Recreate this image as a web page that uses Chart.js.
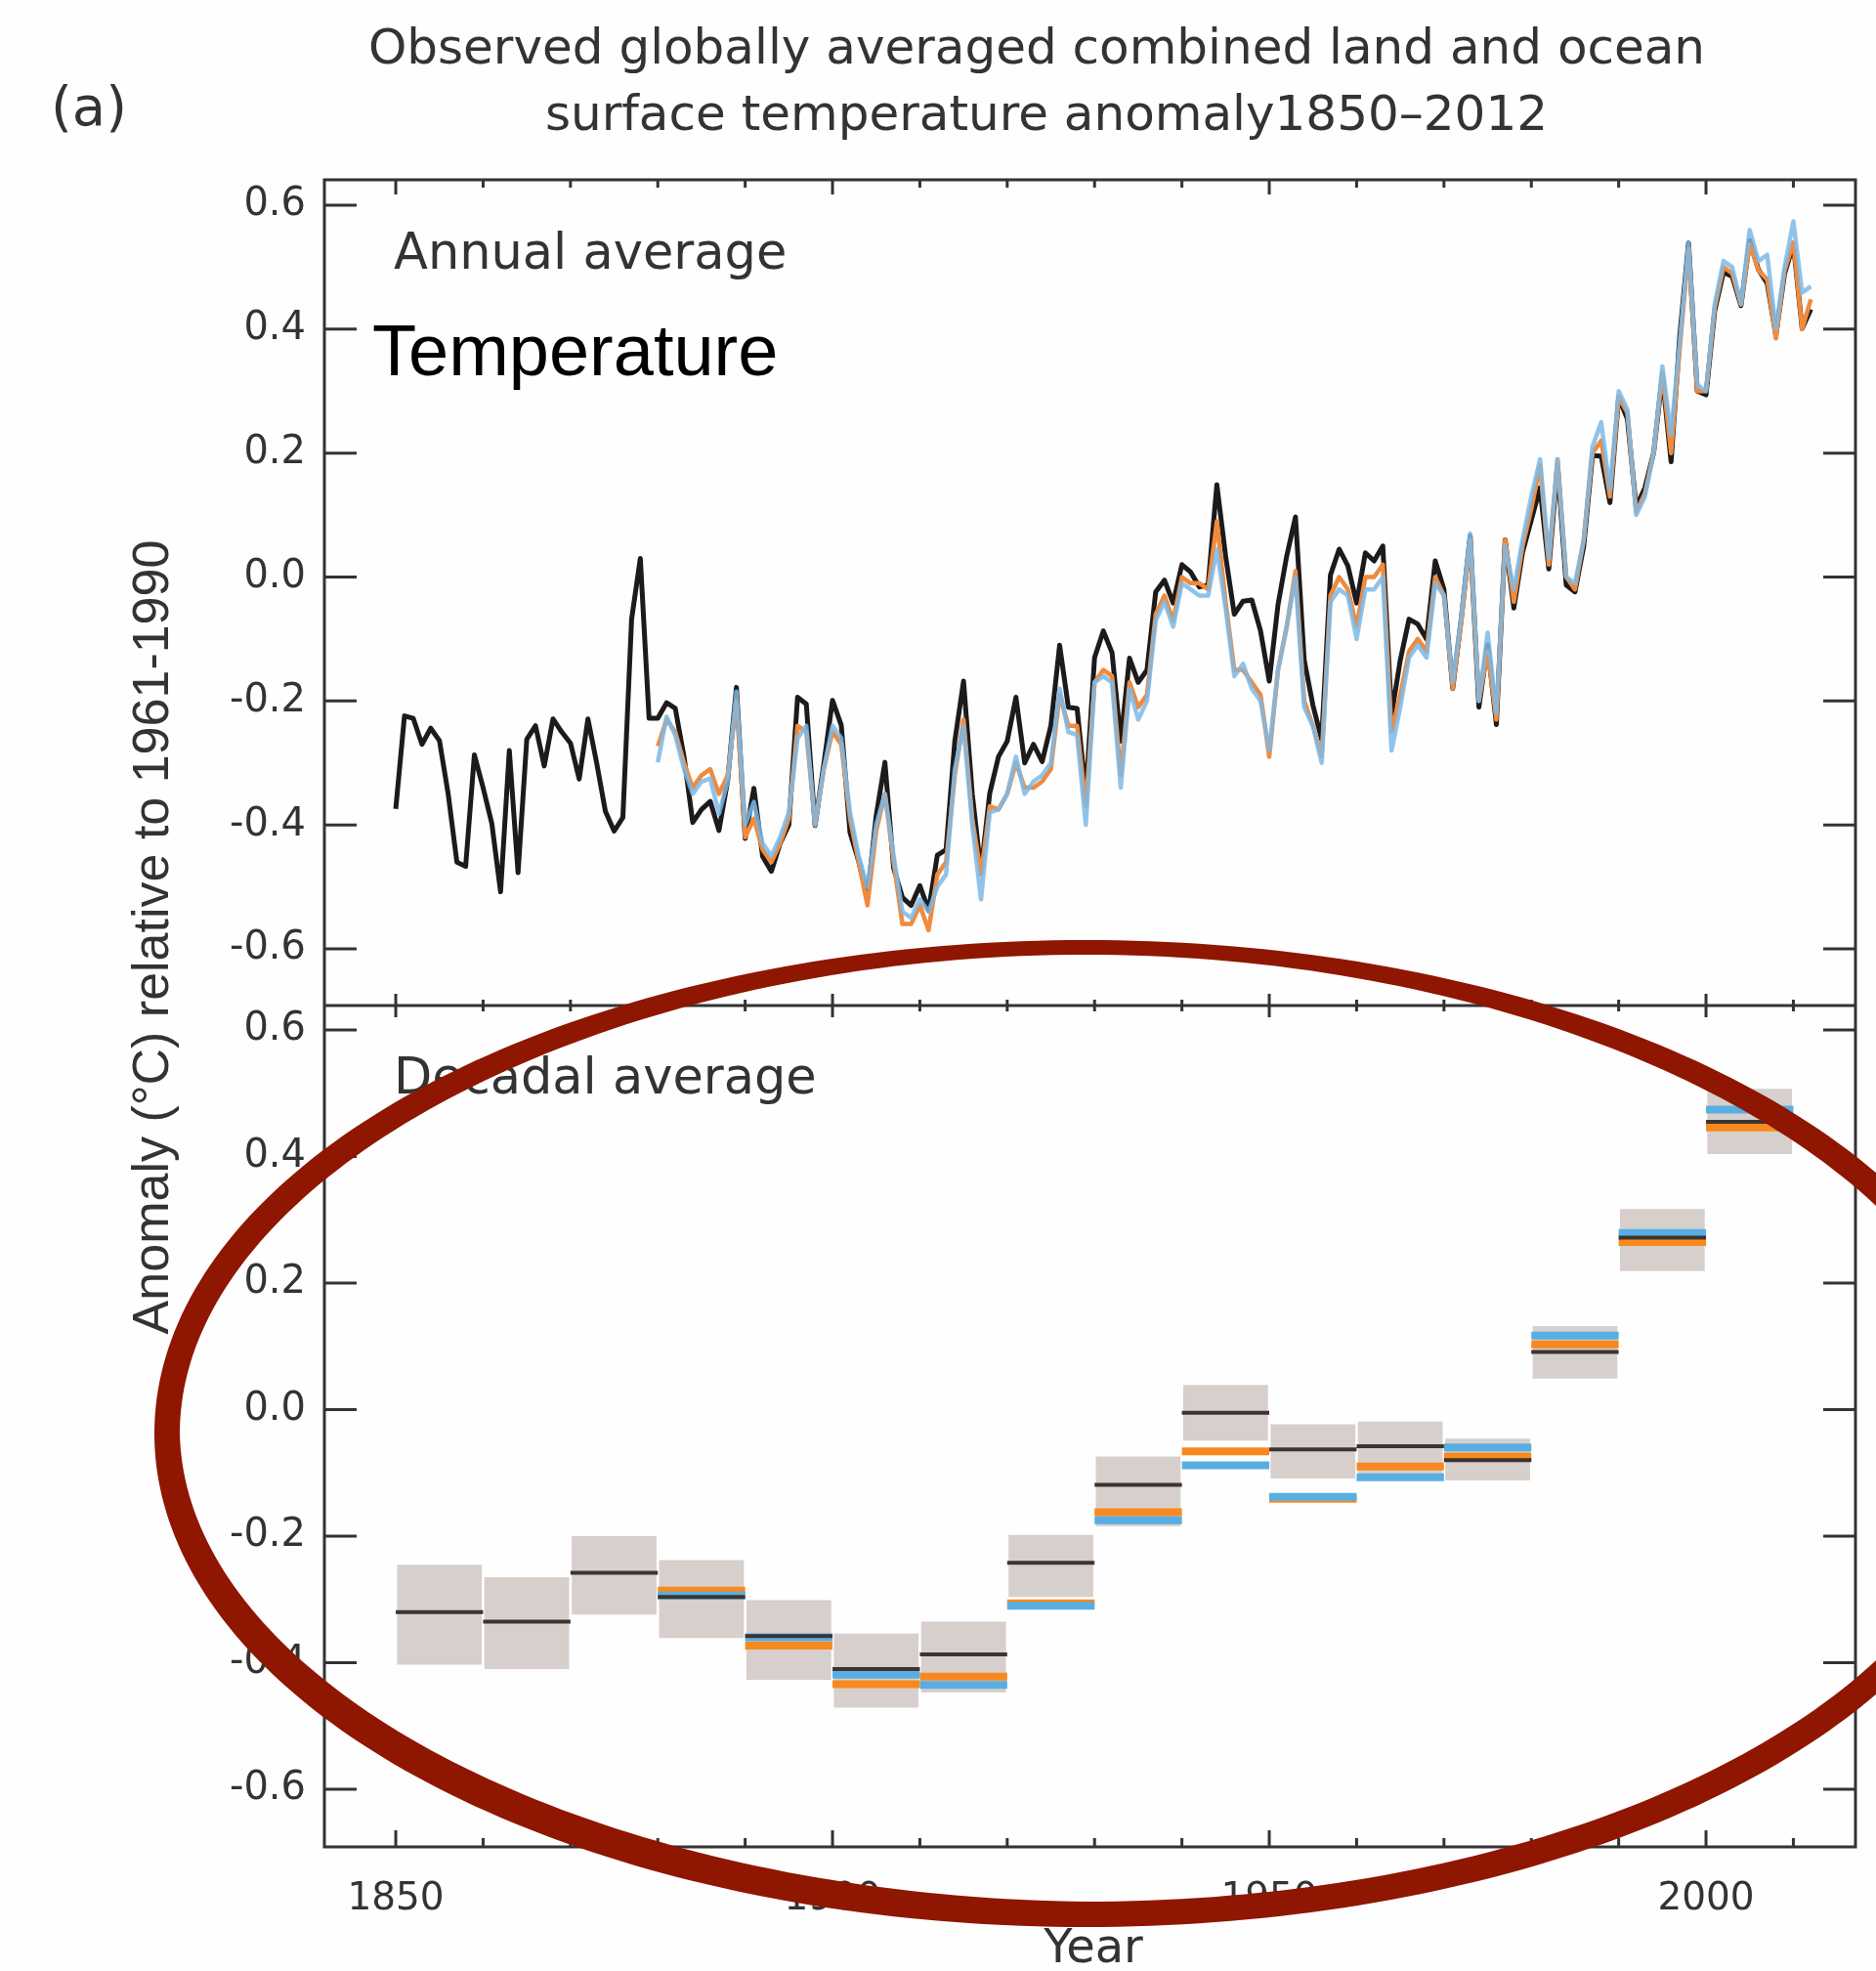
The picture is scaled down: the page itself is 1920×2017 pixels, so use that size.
<!DOCTYPE html>
<html>
<head>
<meta charset="utf-8">
<title>Observed globally averaged combined land and ocean surface temperature anomaly 1850–2012</title>
<script src="https://cdn.jsdelivr.net/npm/chart.js@4.4.1/dist/chart.umd.min.js"></script>
<style>
  html, body { margin: 0; padding: 0; background: #fefefe; }
  #wrap { position: relative; width: 1920px; height: 2017px; }
  canvas { display: block; }
</style>
</head>
<body>
<div id="wrap"><canvas id="chart" width="1920" height="2017"></canvas></div>
<script>
// ---- Annual anomalies (°C, relative to 1961-1990) ----
const hadStart = 1850;
const hadcrut4 = [
  -0.374,-0.224,-0.228,-0.270,-0.244,-0.264,-0.350,-0.460,-0.467,-0.287,
  -0.340,-0.398,-0.508,-0.280,-0.477,-0.262,-0.240,-0.305,-0.229,-0.250,
  -0.268,-0.326,-0.229,-0.300,-0.378,-0.410,-0.388,-0.068, 0.030,-0.228,
  -0.228,-0.203,-0.212,-0.290,-0.396,-0.375,-0.362,-0.409,-0.328,-0.178,
  -0.422,-0.341,-0.451,-0.475,-0.430,-0.400,-0.194,-0.205,-0.401,-0.302,
  -0.199,-0.239,-0.412,-0.459,-0.517,-0.385,-0.299,-0.470,-0.517,-0.530,
  -0.498,-0.538,-0.449,-0.440,-0.265,-0.168,-0.350,-0.475,-0.349,-0.290,
  -0.265,-0.194,-0.300,-0.270,-0.298,-0.240,-0.110,-0.210,-0.212,-0.350,
  -0.130,-0.087,-0.122,-0.265,-0.131,-0.170,-0.150,-0.024,-0.005,-0.042,
   0.020, 0.008,-0.016,-0.013, 0.149, 0.034,-0.060,-0.039,-0.037,-0.087,
  -0.168,-0.045, 0.034, 0.097,-0.134,-0.207,-0.262, 0.003, 0.045, 0.018,
  -0.042, 0.039, 0.026, 0.050,-0.222,-0.134,-0.068,-0.076,-0.100, 0.026,
  -0.020,-0.180,-0.065, 0.066,-0.210,-0.110,-0.238, 0.060,-0.050, 0.040,
   0.092, 0.144, 0.013, 0.180,-0.013,-0.024, 0.050, 0.196, 0.195, 0.120,
   0.290, 0.255, 0.113, 0.144, 0.200, 0.325, 0.186, 0.390, 0.539, 0.300,
   0.294, 0.430, 0.492, 0.485, 0.438, 0.543, 0.496, 0.474, 0.390, 0.490,
   0.537, 0.401, 0.432
];

const noaaStart = 1880;
const noaaMlost = [
  -0.273,-0.230,-0.250,-0.300,-0.340,-0.320,-0.310,-0.350,-0.320,-0.200,
  -0.420,-0.390,-0.440,-0.460,-0.430,-0.390,-0.240,-0.250,-0.400,-0.310,
  -0.250,-0.270,-0.390,-0.460,-0.530,-0.410,-0.350,-0.460,-0.560,-0.560,
  -0.530,-0.570,-0.480,-0.460,-0.320,-0.230,-0.390,-0.480,-0.370,-0.375,
  -0.350,-0.300,-0.340,-0.340,-0.330,-0.310,-0.190,-0.240,-0.240,-0.370,
  -0.170,-0.150,-0.160,-0.320,-0.170,-0.210,-0.190,-0.060,-0.030,-0.070,
   0.000,-0.010,-0.010,-0.020, 0.090,-0.040,-0.150,-0.150,-0.170,-0.190,
  -0.290,-0.150,-0.080, 0.010,-0.200,-0.240,-0.290,-0.030, 0.000,-0.020,
  -0.080, 0.000, 0.000, 0.020,-0.250,-0.190,-0.120,-0.100,-0.120, 0.000,
  -0.030,-0.180,-0.070, 0.060,-0.200,-0.120,-0.230, 0.060,-0.040, 0.050,
   0.110, 0.180, 0.020, 0.190, 0.000,-0.020, 0.060, 0.200, 0.220, 0.130,
   0.290, 0.265, 0.105, 0.135, 0.200, 0.330, 0.200, 0.370, 0.530, 0.300,
   0.300, 0.435, 0.500, 0.490, 0.440, 0.537, 0.495, 0.480, 0.385, 0.495,
   0.540, 0.400, 0.448
];

const gissStart = 1880;
const gissTemp = [
  -0.299,-0.225,-0.255,-0.310,-0.350,-0.330,-0.325,-0.382,-0.330,-0.185,
  -0.400,-0.363,-0.430,-0.450,-0.420,-0.380,-0.260,-0.240,-0.400,-0.310,
  -0.240,-0.260,-0.380,-0.450,-0.500,-0.400,-0.350,-0.450,-0.540,-0.550,
  -0.520,-0.540,-0.500,-0.480,-0.310,-0.240,-0.400,-0.520,-0.380,-0.375,
  -0.350,-0.290,-0.350,-0.330,-0.320,-0.300,-0.180,-0.250,-0.255,-0.400,
  -0.170,-0.160,-0.170,-0.340,-0.180,-0.230,-0.200,-0.070,-0.040,-0.080,
  -0.010,-0.020,-0.030,-0.030, 0.045,-0.050,-0.160,-0.140,-0.180,-0.200,
  -0.280,-0.150,-0.080, 0.000,-0.210,-0.240,-0.300,-0.040,-0.020,-0.030,
  -0.100,-0.020,-0.020, 0.000,-0.280,-0.210,-0.130,-0.110,-0.130,-0.010,
  -0.030,-0.170,-0.060, 0.070,-0.200,-0.090,-0.220, 0.050,-0.020, 0.060,
   0.130, 0.190, 0.030, 0.190, 0.000,-0.010, 0.060, 0.210, 0.250, 0.140,
   0.300, 0.270, 0.100, 0.130, 0.200, 0.340, 0.230, 0.380, 0.539, 0.310,
   0.300, 0.440, 0.510, 0.500, 0.440, 0.560, 0.510, 0.520, 0.400, 0.500,
   0.574, 0.459, 0.469
];

// ---- Decadal averages ----
const decadeStarts = [1850,1860,1870,1880,1890,1900,1910,1920,1930,1940,1950,1960,1970,1980,1990,2000];
const decadeLow    = [-0.403,-0.410,-0.324,-0.361,-0.427,-0.471,-0.447,-0.296,-0.184,-0.049,-0.109,-0.112,-0.112,0.049,0.219,0.404];
const decadeHigh   = [-0.245,-0.265,-0.200,-0.238,-0.301,-0.354,-0.335,-0.198,-0.074,0.039,-0.023,-0.019,-0.046,0.132,0.317,0.507];
const decadeHad    = [-0.320,-0.335,-0.258,-0.296,-0.358,-0.410,-0.387,-0.242,-0.119,-0.005,-0.063,-0.058,-0.080,0.091,0.272,0.455];
const decadeNoaa   = [null,null,null,-0.286,-0.373,-0.434,-0.422,-0.306,-0.162,-0.066,-0.141,-0.090,-0.074,0.103,0.265,0.446];
const decadeGiss   = [null,null,null,-0.294,-0.360,-0.419,-0.435,-0.310,-0.175,-0.088,-0.138,-0.107,-0.060,0.117,0.279,0.474];

// ---- Axis ticks and text ----
const yTickValues = [-0.6, -0.4, -0.2, 0, 0.2, 0.4, 0.6];
const xTickValues = [1850, 1900, 1950, 2000];
const xTickMarks  = [1850,1860,1870,1880,1890,1900,1910,1920,1930,1940,1950,1960,1970,1980,1990,2000,2010];
const titleLines  = ['Observed globally averaged combined land and ocean', 'surface temperature anomaly1850\u20132012'];

// ---- Helpers turning the arrays into chart points ----
const annualPoints = (start, values) => values.map((v, i) => ({ x: start + i, y: v }));
const decadeSteps = values => values.flatMap((v, i) => v === null ? [] : [
  { x: decadeStarts[i], y: v },
  { x: decadeStarts[i] + 10, y: v },
  { x: decadeStarts[i] + 10, y: null }
]);
const decadeBoxes = decadeStarts.map((s, i) => ({ x: s + 5, y: [decadeLow[i], decadeHigh[i]] }));

const INK = '#333333';
const FONT = '"DejaVu Sans", "Liberation Sans", sans-serif';

// Hand-drawn looking ring: thin along the top, heavier elsewhere
function drawRing(ctx, cx, cy, rx, ry, color) {
  const n = 360;
  const width = t => {
    const up = Math.max(0, -Math.sin(t));
    const lowLeft = Math.max(0, Math.sin(t)) * Math.max(0, -Math.cos(t));
    return 26 - 11 * Math.pow(up, 4) + 10 * lowLeft;
  };
  ctx.beginPath();
  for (let i = 0; i <= n; i++) {
    const t = (i / n) * Math.PI * 2;
    const px = cx + rx * Math.cos(t), py = cy + ry * Math.sin(t);
    if (i === 0) ctx.moveTo(px, py); else ctx.lineTo(px, py);
  }
  ctx.closePath();
  for (let i = 0; i <= n; i++) {
    const t = (i / n) * Math.PI * 2;
    const nx = Math.cos(t) / rx, ny = Math.sin(t) / ry;
    const len = Math.hypot(nx, ny);
    const w = width(t);
    const px = cx + rx * Math.cos(t) - (nx / len) * w;
    const py = cy + ry * Math.sin(t) - (ny / len) * w;
    if (i === 0) ctx.moveTo(px, py); else ctx.lineTo(px, py);
  }
  ctx.closePath();
  ctx.fillStyle = color;
  ctx.fill('evenodd');
}

// Frame, inward tick marks, panel captions and the highlight ring
const panelDecor = {
  id: 'panelDecor',
  afterDraw(chart) {
    const { ctx, chartArea: a, scales } = chart;
    const x = scales.x, yT = scales.yTop, yB = scales.yBot;
    const sep = yT.bottom;
    ctx.save();

    // frame and the line between the two panels
    ctx.strokeStyle = INK;
    ctx.lineWidth = 3;
    ctx.strokeRect(a.left, a.top, a.right - a.left, a.bottom - a.top);
    ctx.beginPath();
    ctx.moveTo(a.left, sep);
    ctx.lineTo(a.right, sep);
    ctx.stroke();

    // y tick marks, both sides, pointing inward
    [yT, yB].forEach(s => yTickValues.forEach(v => {
      const py = s.getPixelForValue(v);
      ctx.beginPath();
      ctx.moveTo(a.left, py); ctx.lineTo(a.left + 33, py);
      ctx.moveTo(a.right, py); ctx.lineTo(a.right - 33, py);
      ctx.stroke();
    }));

    // x tick marks on top frame, separator and bottom frame
    xTickMarks.forEach(yr => {
      const px = x.getPixelForValue(yr);
      const major = yr % 50 === 0;
      const tTop = major ? 15 : 8, tBot = major ? 17 : 9, tMid = major ? 12 : 6;
      ctx.beginPath();
      ctx.moveTo(px, a.top); ctx.lineTo(px, a.top + tTop);
      ctx.moveTo(px, sep - tMid); ctx.lineTo(px, sep + tMid);
      ctx.moveTo(px, a.bottom); ctx.lineTo(px, a.bottom - tBot);
      ctx.stroke();
    });

    // texts
    ctx.fillStyle = INK;
    ctx.textBaseline = 'alphabetic';
    ctx.textAlign = 'left';
    ctx.font = '56px ' + FONT;
    ctx.fillText('(a)', 52, 128);

    ctx.textAlign = 'center';
    ctx.font = '50px ' + FONT;
    ctx.fillText(titleLines[0], 1061, 65);
    ctx.fillText(titleLines[1], 1071, 133);

    ctx.textAlign = 'left';
    ctx.font = '51px ' + FONT;
    ctx.fillText('Annual average', 403, 275);
    ctx.fillText('Decadal average', 403, 1119);

    ctx.fillStyle = '#000';
    ctx.font = '74px "Liberation Sans", Arial, sans-serif';
    ctx.fillText('Temperature', 381, 384);

    ctx.fillStyle = INK;
    ctx.textAlign = 'center';
    ctx.font = '48px ' + FONT;
    ctx.fillText('Year', 1119, 2008);

    ctx.save();
    ctx.translate(172, 959);
    ctx.rotate(-Math.PI / 2);
    ctx.font = '52px "Liberation Sans", Arial, sans-serif';
    ctx.fillText('Anomaly (\u00B0C) relative to 1961-1990', 0, 0);
    ctx.restore();

    // dark red ring around the decadal panel
    drawRing(ctx, 1111, 1467, 953, 505, '#8f1600');

    ctx.restore();
  }
};

const yAxis = (min, max, weight, stackWeight) => ({
  type: 'linear',
  position: 'left',
  stack: 'panels',
  stackWeight: stackWeight,
  weight: weight,
  min: min,
  max: max,
  grid: { display: false },
  border: { display: false },
  afterBuildTicks: s => { s.ticks = yTickValues.map(v => ({ value: v })); },
  afterFit: s => { s.width = 332; },
  ticks: {
    padding: 11,
    color: INK,
    font: { family: FONT, size: 40 },
    callback: v => Number(v).toFixed(1)
  }
});

new Chart(document.getElementById('chart'), {
  type: 'line',
  data: {
    datasets: [
      // decadal panel (first listed = drawn on top)
      { type: 'line', label: 'HadCRUT4 decadal', data: decadeSteps(decadeHad), yAxisID: 'yBot',
        borderColor: '#3c3431', borderWidth: 4, pointRadius: 0, spanGaps: false, borderCapStyle: 'butt' },
      { type: 'line', label: 'GISS decadal', data: decadeSteps(decadeGiss), yAxisID: 'yBot',
        borderColor: '#58aee2', borderWidth: 8, pointRadius: 0, spanGaps: false, borderCapStyle: 'butt' },
      { type: 'line', label: 'NOAA decadal', data: decadeSteps(decadeNoaa), yAxisID: 'yBot',
        borderColor: '#f7891f', borderWidth: 8, pointRadius: 0, spanGaps: false, borderCapStyle: 'butt' },
      { type: 'bar', label: 'HadCRUT4 decadal uncertainty', data: decadeBoxes, yAxisID: 'yBot',
        backgroundColor: '#d6cfcb', borderWidth: 0, barPercentage: 0.97, categoryPercentage: 1, grouped: false },
      // annual panel
      { type: 'line', label: 'GISS', data: annualPoints(gissStart, gissTemp), yAxisID: 'yTop',
        borderColor: 'rgba(125,185,230,0.85)', borderWidth: 4.5, pointRadius: 0, borderJoinStyle: 'round' },
      { type: 'line', label: 'NOAA MLOST', data: annualPoints(noaaStart, noaaMlost), yAxisID: 'yTop',
        borderColor: '#f08a3c', borderWidth: 4.5, pointRadius: 0, borderJoinStyle: 'round' },
      { type: 'line', label: 'HadCRUT4', data: annualPoints(hadStart, hadcrut4), yAxisID: 'yTop',
        borderColor: '#1c1a1a', borderWidth: 5, pointRadius: 0, borderJoinStyle: 'round' }
    ]
  },
  options: {
    responsive: false,
    animation: false,
    devicePixelRatio: 1,
    layout: { padding: { top: 184, right: 21, bottom: 0, left: 0 } },
    plugins: { legend: { display: false }, tooltip: { enabled: false }, title: { display: false } },
    elements: { line: { tension: 0 } },
    scales: {
      x: {
        type: 'linear',
        position: 'bottom',
        min: 1841.83,
        max: 2017.11,
        offset: false,
        grid: { display: false, offset: false },
        border: { display: false },
        afterBuildTicks: s => { s.ticks = xTickValues.map(v => ({ value: v })); },
        afterFit: s => { s.height = 127; },
        ticks: {
          padding: 22,
          color: INK,
          maxRotation: 0,
          autoSkip: false,
          font: { family: FONT, size: 39 },
          callback: v => String(v)
        }
      },
      yTop: yAxis(-0.6915, 0.641, 2, 845),
      yBot: yAxis(-0.6911, 0.6386, 1, 861)
    }
  },
  plugins: [panelDecor]
});
</script>
</body>
</html>
